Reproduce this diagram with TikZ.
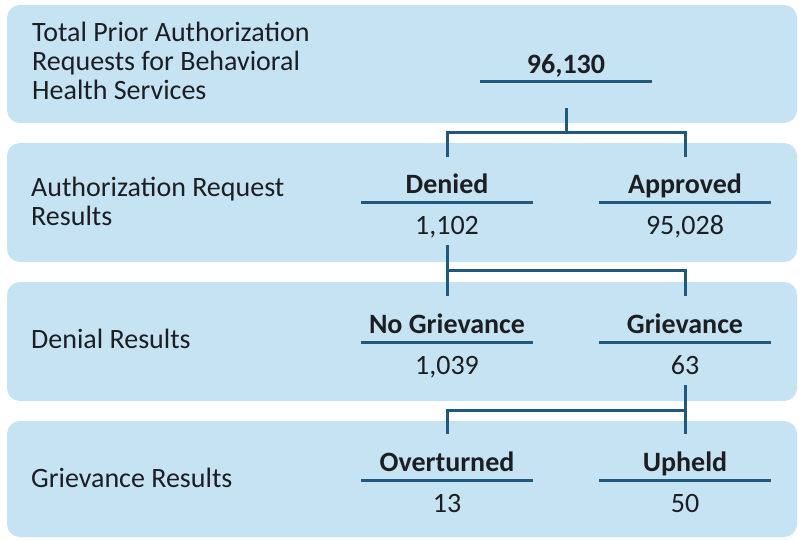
\documentclass[tikz,border=0pt]{standalone}
\usepackage{fontspec}
\setmainfont{Carlito}
\usetikzlibrary{calc}
\definecolor{bandblue}{HTML}{C5E3F3}
\definecolor{linkblue}{HTML}{1F5A7E}
\definecolor{ink}{HTML}{1C1E22}
\begin{document}
\begin{tikzpicture}[x=1pt,y=-1pt,
  band/.style={fill=bandblue, rounded corners=13pt},
  rowlabel/.style={anchor=base west, align=left, inner sep=0pt, text=ink,
    font=\fontsize{28}{29}\selectfont},
  head/.style={anchor=base, inner sep=0pt, text=ink, font=\bfseries\fontsize{28}{30}\selectfont},
  count/.style={anchor=base, inner sep=0pt, text=ink, font=\fontsize{28}{30}\selectfont},
  rulebar/.style={draw=linkblue, line width=3pt},
  conn/.style={draw=linkblue, line width=3pt}]
\useasboundingbox (0,0) rectangle (799,540);

% background bands
\path[band] (7,5) rectangle (797,123);
\path[band] (7,143) rectangle (797,262);
\path[band] (7,282) rectangle (797,401);
\path[band] (7,421) rectangle (797,537);

% row captions (anchored at the baseline of the last line)
\node[rowlabel] (cap1) at (32,100) {Total Prior Authorization\\Requests for Behavioral\\Health Services};
\node[rowlabel] (cap2) at (31,225) {Authorization Request\\Results};
\node[rowlabel] (cap3) at (31,348) {Denial Results};
\node[rowlabel] (cap4) at (31,487) {Grievance Results};

% headings (baselines) and counts
\node[head] (total) at (566,73.5) {96,130};
\node[head] (denied) at (447,193.5) {Denied};
\node[head] (approved) at (685,193.5) {Approved};
\node[count] (nden) at (447,234) {1,102};
\node[count] (napp) at (685,234) {95,028};
\node[head] (nogrv) at (447,333.5) {No Grievance};
\node[head] (grv) at (685,333.5) {Grievance};
\node[count] (nnog) at (447,374) {1,039};
\node[count] (ngrv) at (685,374) {63};
\node[head] (overt) at (447,471.5) {Overturned};
\node[head] (upheld) at (685,471.5) {Upheld};
\node[count] (nove) at (447,512) {13};
\node[count] (nuph) at (685,512) {50};

% rules under the headings
\foreach \n in {total,denied,approved,nogrv,grv,overt,upheld}
  \draw[rulebar] ($(\n.base)+(-86,8.5)$) -- ++(172,0);

% connectors
\coordinate (j1) at (566,133);
\coordinate (j2) at (447,270);
\coordinate (j3) at (686,410);
\draw[conn] ($(total.base)+(0,35)$) -- (j1);
\draw[conn] ($(denied.base)+(0,-36)$) |- (j1) -| ($(approved.base)+(0,-36)$);
\draw[conn] ($(nden.base)+(0,11)$) -- ($(nogrv.base)+(0,-38)$);
\draw[conn] (j2) -| ($(grv.base)+(0,-38)$);
\draw[conn] ($(ngrv.base)+(0,11)$) -- ($(upheld.base)+(0,-38)$);
\draw[conn] (j3) -| ($(overt.base)+(0,-38)$);
\end{tikzpicture}
\end{document}
